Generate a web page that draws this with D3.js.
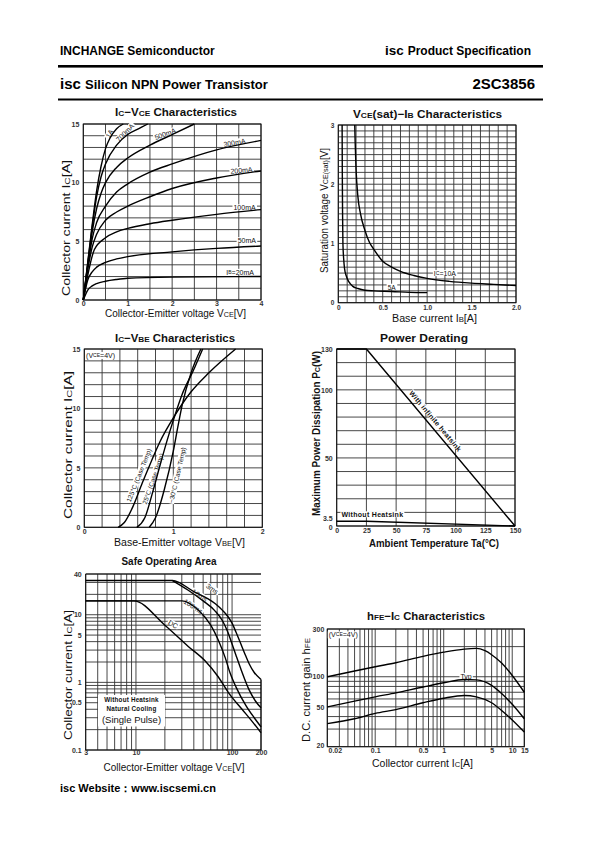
<!DOCTYPE html>
<html><head><meta charset="utf-8">
<script src="https://cdn.jsdelivr.net/npm/d3@7"></script>
<style>
html,body{margin:0;padding:0;background:#fff;}
svg{display:block;}
text{font-family:'Liberation Sans',Arial,Helvetica,sans-serif;}
</style></head><body>
<svg id="page" width="595" height="842"></svg>
<script>
// ======================= DATA =======================
// Chart 1: Ic - Vce  (Vce [V], Ic [A]) per base current
const vceIb1A   = [[0,0],[0.1,3.2],[0.2,6.4],[0.3,9.3],[0.4,11.4],[0.5,12.9],[0.6,13.8],[0.75,14.6],[0.9,15]];
const vceIb700  = [[0,0],[0.1,3.1],[0.2,6.2],[0.3,8.8],[0.4,10.5],[0.5,11.6],[0.75,13.2],[1.0,14.1],[1.25,14.6],[1.45,15]];
const vceIb500  = [[0,0],[0.1,3.0],[0.2,5.8],[0.3,7.8],[0.4,9.1],[0.5,10.0],[0.75,11.3],[1.0,12.1],[1.5,13.2],[2.0,14.1],[2.5,15]];
const vceIb300  = [[0,0],[0.1,2.8],[0.2,5.2],[0.3,6.6],[0.5,8.0],[0.75,9.2],[1.0,9.9],[1.5,10.9],[2.0,11.6],[3.0,12.8],[4.0,13.6]];
const vceIb200  = [[0,0],[0.1,2.6],[0.2,4.5],[0.3,5.6],[0.5,6.8],[0.75,7.5],[1.0,8.0],[1.5,8.8],[2.0,9.5],[3.0,10.4],[4.0,11.0]];
const vceIb100  = [[0,0],[0.1,2.1],[0.25,4.3],[0.5,5.3],[0.75,5.8],[1.0,6.1],[1.5,6.5],[2.0,6.8],[3.0,7.3],[4.0,7.7]];
const vceIb50   = [[0,0],[0.1,1.7],[0.2,2.4],[0.3,2.8],[0.5,3.2],[0.75,3.5],[1.0,3.7],[2.0,4.1],[3.0,4.4],[4.0,4.6]];
const vceIb20   = [[0,0],[0.1,0.85],[0.2,1.2],[0.3,1.4],[0.5,1.6],[0.75,1.75],[1.0,1.85],[2.0,1.95],[4.0,2.0]];
const icVceXTicks = [0,1,2,3,4];
const icVceYTicks = [0,5,10,15];

// Chart 2: Vce(sat) - Ib  (Ib [A], Vce(sat) [V])
const vsatIc10 = [[0.185,3],[0.19,2.7],[0.2,2.25],[0.22,1.8],[0.25,1.5],[0.3,1.22],[0.35,1.02],[0.4,0.9],[0.5,0.7],[0.6,0.6],[0.7,0.53],[0.85,0.46],[1.0,0.41],[1.25,0.36],[1.5,0.33],[1.75,0.31],[2.0,0.29]];
const vsatIc5  = [[0.043,3],[0.045,2.2],[0.048,1.5],[0.052,1.0],[0.06,0.75],[0.07,0.58],[0.09,0.45],[0.12,0.35],[0.16,0.28],[0.22,0.24],[0.3,0.21],[0.4,0.2],[0.6,0.19],[0.8,0.175],[1.0,0.17]];
const vsatXTicks = [0,0.5,1.0,1.5,2.0];
const vsatYTicks = [0,1,2,3];

// Chart 3: Ic - Vbe  (Vbe [V], Ic [A])
const vbeT125 = [[0.38,0],[0.45,0.4],[0.55,1.8],[0.65,3.7],[0.75,5.5],[0.85,7.2],[1.0,9.2],[1.2,11.4],[1.4,13.0],[1.7,15]];
const vbeT25  = [[0.59,0],[0.68,0.8],[0.77,3.0],[0.85,5.2],[0.95,7.8],[1.0,9.0],[1.1,11.2],[1.22,13.1],[1.33,15]];
const vbeTm30 = [[0.73,0],[0.8,0.8],[0.9,3.2],[1.0,6.4],[1.05,8.4],[1.1,10.3],[1.2,13.0],[1.31,15]];
const vbeXTicks = [0,1,2];
const vbeYTicks = [0,5,10,15];

// Chart 4: Power derating (Ta [°C], Pc [W])
const pdInfinite = [[0,130],[25,130],[150,0]];
const pdNoSink   = [[0,3.5],[25,3.5],[150,0]];
const pdXTicks = [0,25,50,75,100,125,150];
const pdYTicks = [0,3.5,50,100,130];

// Chart 5: Safe operating area (Vce [V], Ic [A])
const soa3ms   = [[3,32],[24,32],[40,22],[55,17.5],[67,14.5],[80,11.5],[90,9.5],[100,7.5],[110,5.5],[120,4.1],[135,2.7],[150,1.9],[170,1.4],[200,1.1]];
const soa10ms  = [[24,32],[35,23],[50,16],[66,11.5],[80,8],[90,5.6],[100,3.7],[110,2.5],[125,1.5],[150,0.78],[175,0.53],[200,0.42]];
const soa100ms = [[3,16],[30,16],[45,11.5],[60,7],[72,4.2],[85,2.3],[95,1.4],[110,0.85],[140,0.45],[170,0.3],[200,0.22]];
const soaDC    = [[3,16],[9.5,16],[20,7],[35,3.4],[52,2.1],[72,1.2],[92,0.7],[127,0.4],[160,0.27],[200,0.18]];
const soaLimit = [[200,1.1],[200,0.1]];
const soaXTicks = [3,10,100,200];
const soaYTicks = [0.1,0.5,1,5,10,40];

// Chart 6: hFE - Ic (Ic [A], hFE)
const hfeUpper = [[0.02,100],[0.05,114],[0.1,126],[0.2,138],[0.5,160],[1,176],[2,189],[3,192],[4,182],[5,166],[7,137],[10,103],[15,70]];
const hfeTyp   = [[0.02,50],[0.05,57],[0.1,63],[0.2,69],[0.5,79],[1,87],[2,94],[3,93],[5,82],[7,68],[10,53],[15,38]];
const hfeLower = [[0.02,34],[0.05,38],[0.1,43],[0.2,47],[0.5,55],[1,61],[2,65],[3,63],[5,55],[7,46],[10,37],[15,28]];
const hfeXTicks = [0.02,0.1,0.5,1,5,10,15];
const hfeYTicks = [20,50,100,300];

// ======================= DRAWING =======================
const svg = d3.select("#page");
const GRID = "#333";

function rich(g, x, y, parts, o) {
  const t = g.append("text").attr("x", x).attr("y", y)
    .attr("font-size", o.size).attr("font-weight", o.bold ? "bold" : "normal")
    .attr("text-anchor", o.anchor || "middle").attr("fill", "#111");
  if (o.rotate) t.attr("transform", `rotate(${o.rotate},${x},${y})`);
  if (o.len) t.attr("textLength", o.len).attr("lengthAdjust", "spacingAndGlyphs");
  if (o.spacing) t.attr("letter-spacing", o.spacing);
  parts.forEach(p => {
    const s = t.append("tspan").text(p[0]);
    if (p[1]) s.attr("font-size", o.size * 0.72);
  });
  return t;
}

function panel(x, y) {
  const root = svg.append("g");
  return {x, y, root, grid: root.append("g"), bg: root.append("g"), curves: root.append("g"), txt: root.append("g")};
}

function grid(P, xs, ys, frame = true) {
  const [xa, xb] = P.x.range(), [yb, ya] = P.y.range();
  P.grid.selectAll(null).data(xs).join("line")
    .attr("x1", d => P.x(d)).attr("x2", d => P.x(d)).attr("y1", ya).attr("y2", yb)
    .attr("stroke", GRID).attr("stroke-width", 0.9);
  P.grid.selectAll(null).data(ys).join("line")
    .attr("y1", d => P.y(d)).attr("y2", d => P.y(d)).attr("x1", xa).attr("x2", xb)
    .attr("stroke", GRID).attr("stroke-width", 0.9);
  if (frame) P.grid.append("rect").attr("x", xa).attr("y", ya).attr("width", xb - xa).attr("height", yb - ya)
    .attr("fill", "none").attr("stroke", "#111").attr("stroke-width", 1);
}

function curve(P, data, type) {
  const line = d3.line().x(d => P.x(d[0])).y(d => P.y(d[1])).curve(type || d3.curveMonotoneX);
  P.curves.append("path").attr("d", line(data)).attr("fill", "none")
    .attr("stroke", "#000").attr("stroke-width", 1.4).attr("stroke-linejoin", "round");
}

function axes(P, xt, yt, fmtX, fmtY, pad) {
  const [xa] = P.x.range(), [yb] = P.y.range();
  const gx = P.txt.append("g").attr("transform", `translate(0,${yb})`)
    .call(d3.axisBottom(P.x).tickValues(xt).tickSize(0).tickPadding(pad.x).tickFormat(fmtX));
  const gy = P.txt.append("g").attr("transform", `translate(${xa},0)`)
    .call(d3.axisLeft(P.y).tickValues(yt).tickSize(0).tickPadding(pad.y).tickFormat(fmtY));
  [gx, gy].forEach(g => {
    g.select(".domain").remove();
    g.attr("font-family", null).attr("font-size", pad.size || 7).attr("font-weight", "bold");
    g.selectAll("text").attr("fill", "#333");
  });
  return {gx, gy};
}

function tag(P, xv, yv, parts, angle, size, o = {}) {
  const px = P.x(xv), py = P.y(yv);
  const tr = `translate(${px},${py}) rotate(${angle})`;
  const g = P.txt.append("g").attr("transform", tr);
  const t = rich(g, 0, 0, parts, {size, anchor: o.anchor || "middle", bold: o.bold, spacing: o.spacing})
    .attr("dominant-baseline", "central");
  const b = t.node().getBBox();
  const pad = o.pad == null ? 1 : o.pad;
  P.bg.append("rect").attr("transform", tr).attr("x", b.x - pad).attr("y", b.y + 0.5)
    .attr("width", b.width + 2 * pad).attr("height", b.height - 1).attr("fill", "#fff");
}

const fmt = d => String(d);

// ---------- Header ----------
svg.append("text").attr("x", 60).attr("y", 55).attr("font-size", 12).attr("font-weight", "bold").text("INCHANGE Semiconductor");
{
  const t = svg.append("text").attr("x", 531).attr("y", 55).attr("font-weight", "bold").attr("text-anchor", "end");
  t.append("tspan").attr("font-size", 13.5).text("isc ");
  t.append("tspan").attr("font-size", 12).text("Product Specification");
}
svg.append("rect").attr("x", 58).attr("y", 65).attr("width", 485).attr("height", 2.6).attr("fill", "#000");
{
  const t = svg.append("text").attr("x", 60).attr("y", 89).attr("font-weight", "bold");
  t.append("tspan").attr("font-size", 15).text("isc ");
  t.append("tspan").attr("font-size", 13).text("Silicon NPN Power Transistor");
}
svg.append("text").attr("x", 535).attr("y", 89).attr("font-size", 15).attr("font-weight", "bold").attr("text-anchor", "end").text("2SC3856");
svg.append("rect").attr("x", 58).attr("y", 98.5).attr("width", 485).attr("height", 2).attr("fill", "#000");

// ---------- Chart 1 : Ic-Vce ----------
{
  const P = panel(d3.scaleLinear([0, 4], [83.3, 261]), d3.scaleLinear([0, 15], [300, 124]));
  grid(P, d3.range(9).map(i => i * 0.5), d3.range(16));
  [vceIb1A, vceIb700, vceIb500, vceIb300, vceIb200, vceIb100, vceIb50, vceIb20].forEach(d => curve(P, d));
  axes(P, icVceXTicks, icVceYTicks, fmt, fmt, {x: 1.5, y: 4});
  tag(P, 0.58, 14.2, [["1A"]], -62, 7);
  tag(P, 0.93, 14.3, [["700mA"]], -45, 7);
  tag(P, 1.84, 14.2, [["500mA"]], -20, 7);
  tag(P, 3.4, 13.45, [["300mA"]], -10, 7);
  tag(P, 3.56, 11.1, [["200mA"]], -5, 7);
  tag(P, 3.63, 7.9, [["100mA"]], 0, 7);
  tag(P, 3.68, 5.1, [["50mA"]], 0, 7);
  tag(P, 3.53, 2.4, [["I"], ["B", 1], ["=20mA"]], 0, 7);
  rich(svg, 176, 116, [["I"], ["C", 1], ["−V"], ["CE", 1], [" Characteristics"]], {size: 11, bold: true, len: 122});
  rich(svg, 175.5, 317, [["Collector-Emitter voltage V"], ["CE", 1], ["[V]"]], {size: 10, len: 141});
  rich(svg, 70, 228, [["Collector current   I"], ["C", 1], ["[A]"]], {size: 10, rotate: -90, len: 136});
}

// ---------- Chart 2 : Vce(sat)-Ib ----------
{
  const P = panel(d3.scaleLinear([0, 2], [338.3, 516]), d3.scaleLinear([0, 3], [302.7, 125]));
  grid(P, d3.range(21).map(i => i / 10), d3.range(31).map(i => i / 10));
  curve(P, vsatIc10);
  curve(P, vsatIc5);
  axes(P, vsatXTicks, vsatYTicks, d => d === 0 ? "0" : d3.format(".1f")(d), fmt, {x: 3, y: 4, size: 6.5});
  tag(P, 1.2, 0.5, [["I"], ["C", 1], ["=10A"]], 0, 7);
  tag(P, 0.6, 0.27, [["5A"]], 0, 6.5);
  rich(svg, 427.5, 118, [["V"], ["CE", 1], ["(sat)−I"], ["B", 1], [" Characteristics"]], {size: 11, bold: true, len: 149});
  rich(svg, 434.5, 322, [["Base current   I"], ["B", 1], ["[A]"]], {size: 10, len: 85});
  rich(svg, 328, 210.5, [["Saturation voltage  V"], ["CE(sat)", 1], ["[V]"]], {size: 10, rotate: -90, len: 125});
}

// ---------- Chart 3 : Ic-Vbe ----------
{
  const P = panel(d3.scaleLinear([0, 2], [84.3, 262.3]), d3.scaleLinear([0, 15], [527.3, 349]));
  grid(P, d3.range(11).map(i => i * 0.2), d3.range(16));
  [vbeT125, vbeT25, vbeTm30].forEach(d => curve(P, d));
  axes(P, vbeXTicks, vbeYTicks, fmt, fmt, {x: 1.5, y: 4});
  tag(P, 0.607, 4.4, [["125°C (Case Temp)"]], -68, 6.5, {pad: 0.5});
  tag(P, 0.766, 4.1, [["25°C (Case Temp)"]], -71, 6.5, {pad: 0.5});
  tag(P, 1.038, 4.4, [["−30°C (Case Temp)"]], -77, 6.5, {pad: 0.5});
  tag(P, 0.02, 14.5, [["(V"], ["CE", 1], ["=4V)"]], 0, 7, {anchor: "start"});
  rich(svg, 175, 342, [["I"], ["C", 1], ["−V"], ["BE", 1], [" Characteristics"]], {size: 11, bold: true, len: 120});
  rich(svg, 179.5, 546, [["Base-Emitter voltage V"], ["BE", 1], ["[V]"]], {size: 10, len: 131});
  rich(svg, 72, 445, [["Collector current   I"], ["C", 1], ["[A]"]], {size: 10, rotate: -90, len: 148});
}

// ---------- Chart 4 : Power derating ----------
{
  const P = panel(d3.scaleLinear([0, 150], [336.7, 515]), d3.scaleLinear([0, 130], [526, 349]));
  grid(P, d3.range(7).map(i => i * 25), d3.range(14).map(i => i * 10));
  curve(P, pdInfinite, d3.curveLinear);
  curve(P, pdNoSink, d3.curveLinear);
  const ax = axes(P, pdXTicks, pdYTicks, fmt, fmt, {x: 2, y: 4});
  ax.gy.selectAll(".tick").filter(d => d === 3.5).select("text").attr("dy", "-0.1em");
  ax.gy.selectAll(".tick").filter(d => d === 0).select("text").attr("dy", "0.45em");
  tag(P, 83.4, 77.3, [["With infinite heatsink"]], 50, 7, {bold: true, spacing: 0.3, pad: 0.5});
  tag(P, 4, 8.6, [["Without Heatsink"]], 0, 7, {anchor: "start", bold: true, spacing: 0.3});
  rich(svg, 424, 341.5, [["Power  Derating"]], {size: 11, bold: true, len: 88});
  rich(svg, 434, 547, [["Ambient Temperature Ta(°C)"]], {size: 10, bold: true, len: 130});
  rich(svg, 320, 433.5, [["Maximum Power Dissipation P"], ["C", 1], ["(W)"]], {size: 10, bold: true, rotate: -90, len: 165});
}

// ---------- Chart 5 : SOA ----------
{
  const P = panel(d3.scaleLog([3, 200], [85.7, 261]), d3.scaleLog([0.1, 40], [750, 574]));
  const xs = [3,4,5,6,7,8,9,10,20,30,40,50,60,70,80,90,100,200];
  const ys = [0.1,0.2,0.3,0.4,0.5,0.6,0.7,0.8,0.9,1,2,3,4,5,6,7,8,9,10,20,30,40];
  grid(P, xs.slice(0, -1), ys, false);
  P.grid.append("path").attr("d", `M${P.x(200)},${P.y(40)}H${P.x(3)}V${P.y(0.1)}H${P.x(200)}`)
    .attr("fill", "none").attr("stroke", "#111").attr("stroke-width", 1);
  [soa3ms, soa10ms, soa100ms, soaDC].forEach(d => curve(P, d));
  curve(P, soaLimit, d3.curveLinear);
  axes(P, soaXTicks, soaYTicks, fmt, fmt, {x: 0.5, y: 4});
  tag(P, 62.6, 24.6, [["3ms"]], 35, 7);
  tag(P, 46.3, 19.6, [["10ms"]], 33, 7);
  tag(P, 39.6, 13.5, [["100ms"]], 33, 7);
  tag(P, 24.5, 7.3, [["DC"]], 30, 7);
  // note box
  P.bg.append("rect").attr("x", 98).attr("y", 695).attr("width", 67).attr("height", 31.5).attr("fill", "#fff");
  rich(P.txt, 131.5, 702, [["Without Heatsink"]], {size: 6.3, bold: true, spacing: 0.2});
  rich(P.txt, 131.5, 710.5, [["Natural Cooling"]], {size: 6.3, bold: true, spacing: 0.2});
  rich(P.txt, 131.5, 722.5, [["(Single Pulse)"]], {size: 9.5});
  rich(svg, 169, 564.5, [["Safe Operating Area"]], {size: 11, bold: true, len: 95});
  rich(svg, 174, 770.5, [["Collector-Emitter voltage V"], ["CE", 1], ["[V]"]], {size: 10, len: 141});
  rich(svg, 72, 675, [["Collector current   I"], ["C", 1], ["[A]"]], {size: 10, rotate: -90, len: 130});
}

// ---------- Chart 6 : hFE-Ic ----------
{
  const P = panel(d3.scaleLog([0.02, 15], [327.3, 524.3]), d3.scaleLog([20, 300], [746.7, 629]));
  const xs = [0.02,0.03,0.04,0.05,0.06,0.07,0.08,0.09,0.1,0.2,0.3,0.4,0.5,0.6,0.7,0.8,0.9,1,2,3,4,5,6,7,8,9,10,15];
  const ys = [20,30,40,50,60,70,80,90,100,200,300];
  grid(P, xs, ys);
  [hfeUpper, hfeTyp, hfeLower].forEach(d => curve(P, d));
  const ax = axes(P, hfeXTicks, hfeYTicks, fmt, fmt, {x: 1.5, y: 3});
  ax.gx.selectAll(".tick").filter(d => d === 0.02).select("text").attr("text-anchor", "start").attr("dx", "0.1em");
  ax.gy.selectAll(".tick").filter(d => d === 20).select("text").attr("dy", "0.1em");
  tag(P, 2.12, 102, [["Typ"]], 0, 7);
  tag(P, 0.021, 265, [["(V"], ["CE", 1], ["=4V)"]], 0, 7, {anchor: "start"});
  rich(svg, 426, 620, [["h"], ["FE", 1], ["−I"], ["C", 1], [" Characteristics"]], {size: 11, bold: true, len: 118});
  rich(svg, 422.5, 766.5, [["Collector current   I"], ["C", 1], ["[A]"]], {size: 10, len: 101});
  rich(svg, 310, 690, [["D.C. current gain   h"], ["FE", 1]], {size: 10, rotate: -90, len: 104});
}

// ---------- Footer ----------
svg.append("text").attr("x", 60).attr("y", 792).attr("font-size", 11).attr("font-weight", "bold").text("isc Website：www.iscsemi.cn");
</script></body></html>
